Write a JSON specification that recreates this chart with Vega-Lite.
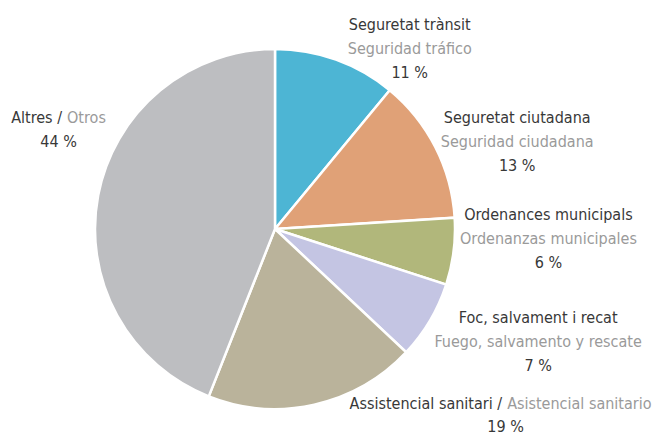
{
  "$schema": "https://vega.github.io/schema/vega-lite/v6.json",
  "width": 550,
  "height": 416,
  "padding": {"left": 0, "top": 21, "right": 106, "bottom": 0},
  "autosize": {"type": "none"},
  "background": "white",
  "config": {"view": {"stroke": null}, "text": {"font": "DejaVu Sans Condensed, sans-serif", "fontSize": 16, "baseline": "alphabetic"}},
  "data": {"values": [
    {"k": "t", "n": 1, "value": 11, "ca": "Seguretat trànsit", "es": "Seguridad tráfico", "pct": "11 %"},
    {"k": "c", "n": 2, "value": 13, "ca": "Seguretat ciutadana", "es": "Seguridad ciudadana", "pct": "13 %"},
    {"k": "o", "n": 3, "value": 6, "ca": "Ordenances municipals", "es": "Ordenanzas municipales", "pct": "6 %"},
    {"k": "f", "n": 4, "value": 7, "ca": "Foc, salvament i recat", "es": "Fuego, salvamento y rescate", "pct": "7 %"},
    {"k": "s", "n": 5, "value": 19, "ca": "Assistencial sanitari /", "es": "Asistencial sanitario", "pct": "19 %"},
    {"k": "a", "n": 6, "value": 44, "ca": "Altres /", "es": "Otros", "pct": "44 %"}
  ]},
  "encoding": {
    "theta": {"field": "value", "type": "quantitative", "stack": true},
    "order": {"field": "n", "type": "quantitative"},
    "detail": {"field": "k", "type": "nominal"}
  },
  "layer": [
    {"mark": {"type": "arc", "outerRadius": 180, "stroke": "white", "strokeWidth": 2.5},
     "encoding": {"color": {"field": "k", "type": "nominal", "legend": null,
       "scale": {"domain": ["t", "c", "o", "f", "s", "a"], "range": ["#4DB5D4", "#E0A177", "#B1B77B", "#C4C5E3", "#BAB39B", "#BDBEC1"]}}}},

    {"mark": {"type": "text", "radius": 200, "dx": 67, "dy": -11, "align": "center", "color": "#383838"},
     "encoding": {"text": {"condition": {"test": "datum.k === 't'", "field": "ca", "type": "nominal"}, "value": ""}}},
    {"mark": {"type": "text", "radius": 200, "dx": 67, "dy": 13.5, "align": "center", "color": "#9A9A9A"},
     "encoding": {"text": {"condition": {"test": "datum.k === 't'", "field": "es", "type": "nominal"}, "value": ""}}},
    {"mark": {"type": "text", "radius": 200, "dx": 67, "dy": 37, "align": "center", "color": "#383838"},
     "encoding": {"text": {"condition": {"test": "datum.k === 't'", "field": "pct", "type": "nominal"}, "value": ""}}},

    {"mark": {"type": "text", "radius": 200, "dx": 64, "dy": -15, "align": "center", "color": "#383838"},
     "encoding": {"text": {"condition": {"test": "datum.k === 'c'", "field": "ca", "type": "nominal"}, "value": ""}}},
    {"mark": {"type": "text", "radius": 200, "dx": 64, "dy": 9, "align": "center", "color": "#9A9A9A"},
     "encoding": {"text": {"condition": {"test": "datum.k === 'c'", "field": "es", "type": "nominal"}, "value": ""}}},
    {"mark": {"type": "text", "radius": 200, "dx": 64, "dy": 33, "align": "center", "color": "#383838"},
     "encoding": {"text": {"condition": {"test": "datum.k === 'c'", "field": "pct", "type": "nominal"}, "value": ""}}},

    {"mark": {"type": "text", "radius": 200, "dx": 75, "dy": -34, "align": "center", "color": "#383838"},
     "encoding": {"text": {"condition": {"test": "datum.k === 'o'", "field": "ca", "type": "nominal"}, "value": ""}}},
    {"mark": {"type": "text", "radius": 200, "dx": 75, "dy": -10, "align": "center", "color": "#9A9A9A"},
     "encoding": {"text": {"condition": {"test": "datum.k === 'o'", "field": "es", "type": "nominal"}, "value": ""}}},
    {"mark": {"type": "text", "radius": 200, "dx": 75, "dy": 14, "align": "center", "color": "#383838"},
     "encoding": {"text": {"condition": {"test": "datum.k === 'o'", "field": "pct", "type": "nominal"}, "value": ""}}},

    {"mark": {"type": "text", "radius": 200, "dx": 91, "dy": -8, "align": "center", "color": "#383838"},
     "encoding": {"text": {"condition": {"test": "datum.k === 'f'", "field": "ca", "type": "nominal"}, "value": ""}}},
    {"mark": {"type": "text", "radius": 200, "dx": 91, "dy": 16, "align": "center", "color": "#9A9A9A"},
     "encoding": {"text": {"condition": {"test": "datum.k === 'f'", "field": "es", "type": "nominal"}, "value": ""}}},
    {"mark": {"type": "text", "radius": 200, "dx": 91, "dy": 40, "align": "center", "color": "#383838"},
     "encoding": {"text": {"condition": {"test": "datum.k === 'f'", "field": "pct", "type": "nominal"}, "value": ""}}},

    {"mark": {"type": "text", "radius": 200, "dx": 183.5, "dy": -15, "align": "right", "color": "#383838"},
     "encoding": {"text": {"condition": {"test": "datum.k === 's'", "field": "ca", "type": "nominal"}, "value": ""}}},
    {"mark": {"type": "text", "radius": 200, "dx": 188.5, "dy": -15, "align": "left", "color": "#9A9A9A"},
     "encoding": {"text": {"condition": {"test": "datum.k === 's'", "field": "es", "type": "nominal"}, "value": ""}}},
    {"mark": {"type": "text", "radius": 200, "dx": 187, "dy": 8, "align": "center", "color": "#383838"},
     "encoding": {"text": {"condition": {"test": "datum.k === 's'", "field": "pct", "type": "nominal"}, "value": ""}}},

    {"mark": {"type": "text", "radius": 200, "dx": -16.5, "dy": -68.5, "align": "right", "color": "#383838"},
     "encoding": {"text": {"condition": {"test": "datum.k === 'a'", "field": "ca", "type": "nominal"}, "value": ""}}},
    {"mark": {"type": "text", "radius": 200, "dx": -11.5, "dy": -68.5, "align": "left", "color": "#9A9A9A"},
     "encoding": {"text": {"condition": {"test": "datum.k === 'a'", "field": "es", "type": "nominal"}, "value": ""}}},
    {"mark": {"type": "text", "radius": 200, "dx": -20, "dy": -44.5, "align": "center", "color": "#383838"},
     "encoding": {"text": {"condition": {"test": "datum.k === 'a'", "field": "pct", "type": "nominal"}, "value": ""}}}
  ]
}
